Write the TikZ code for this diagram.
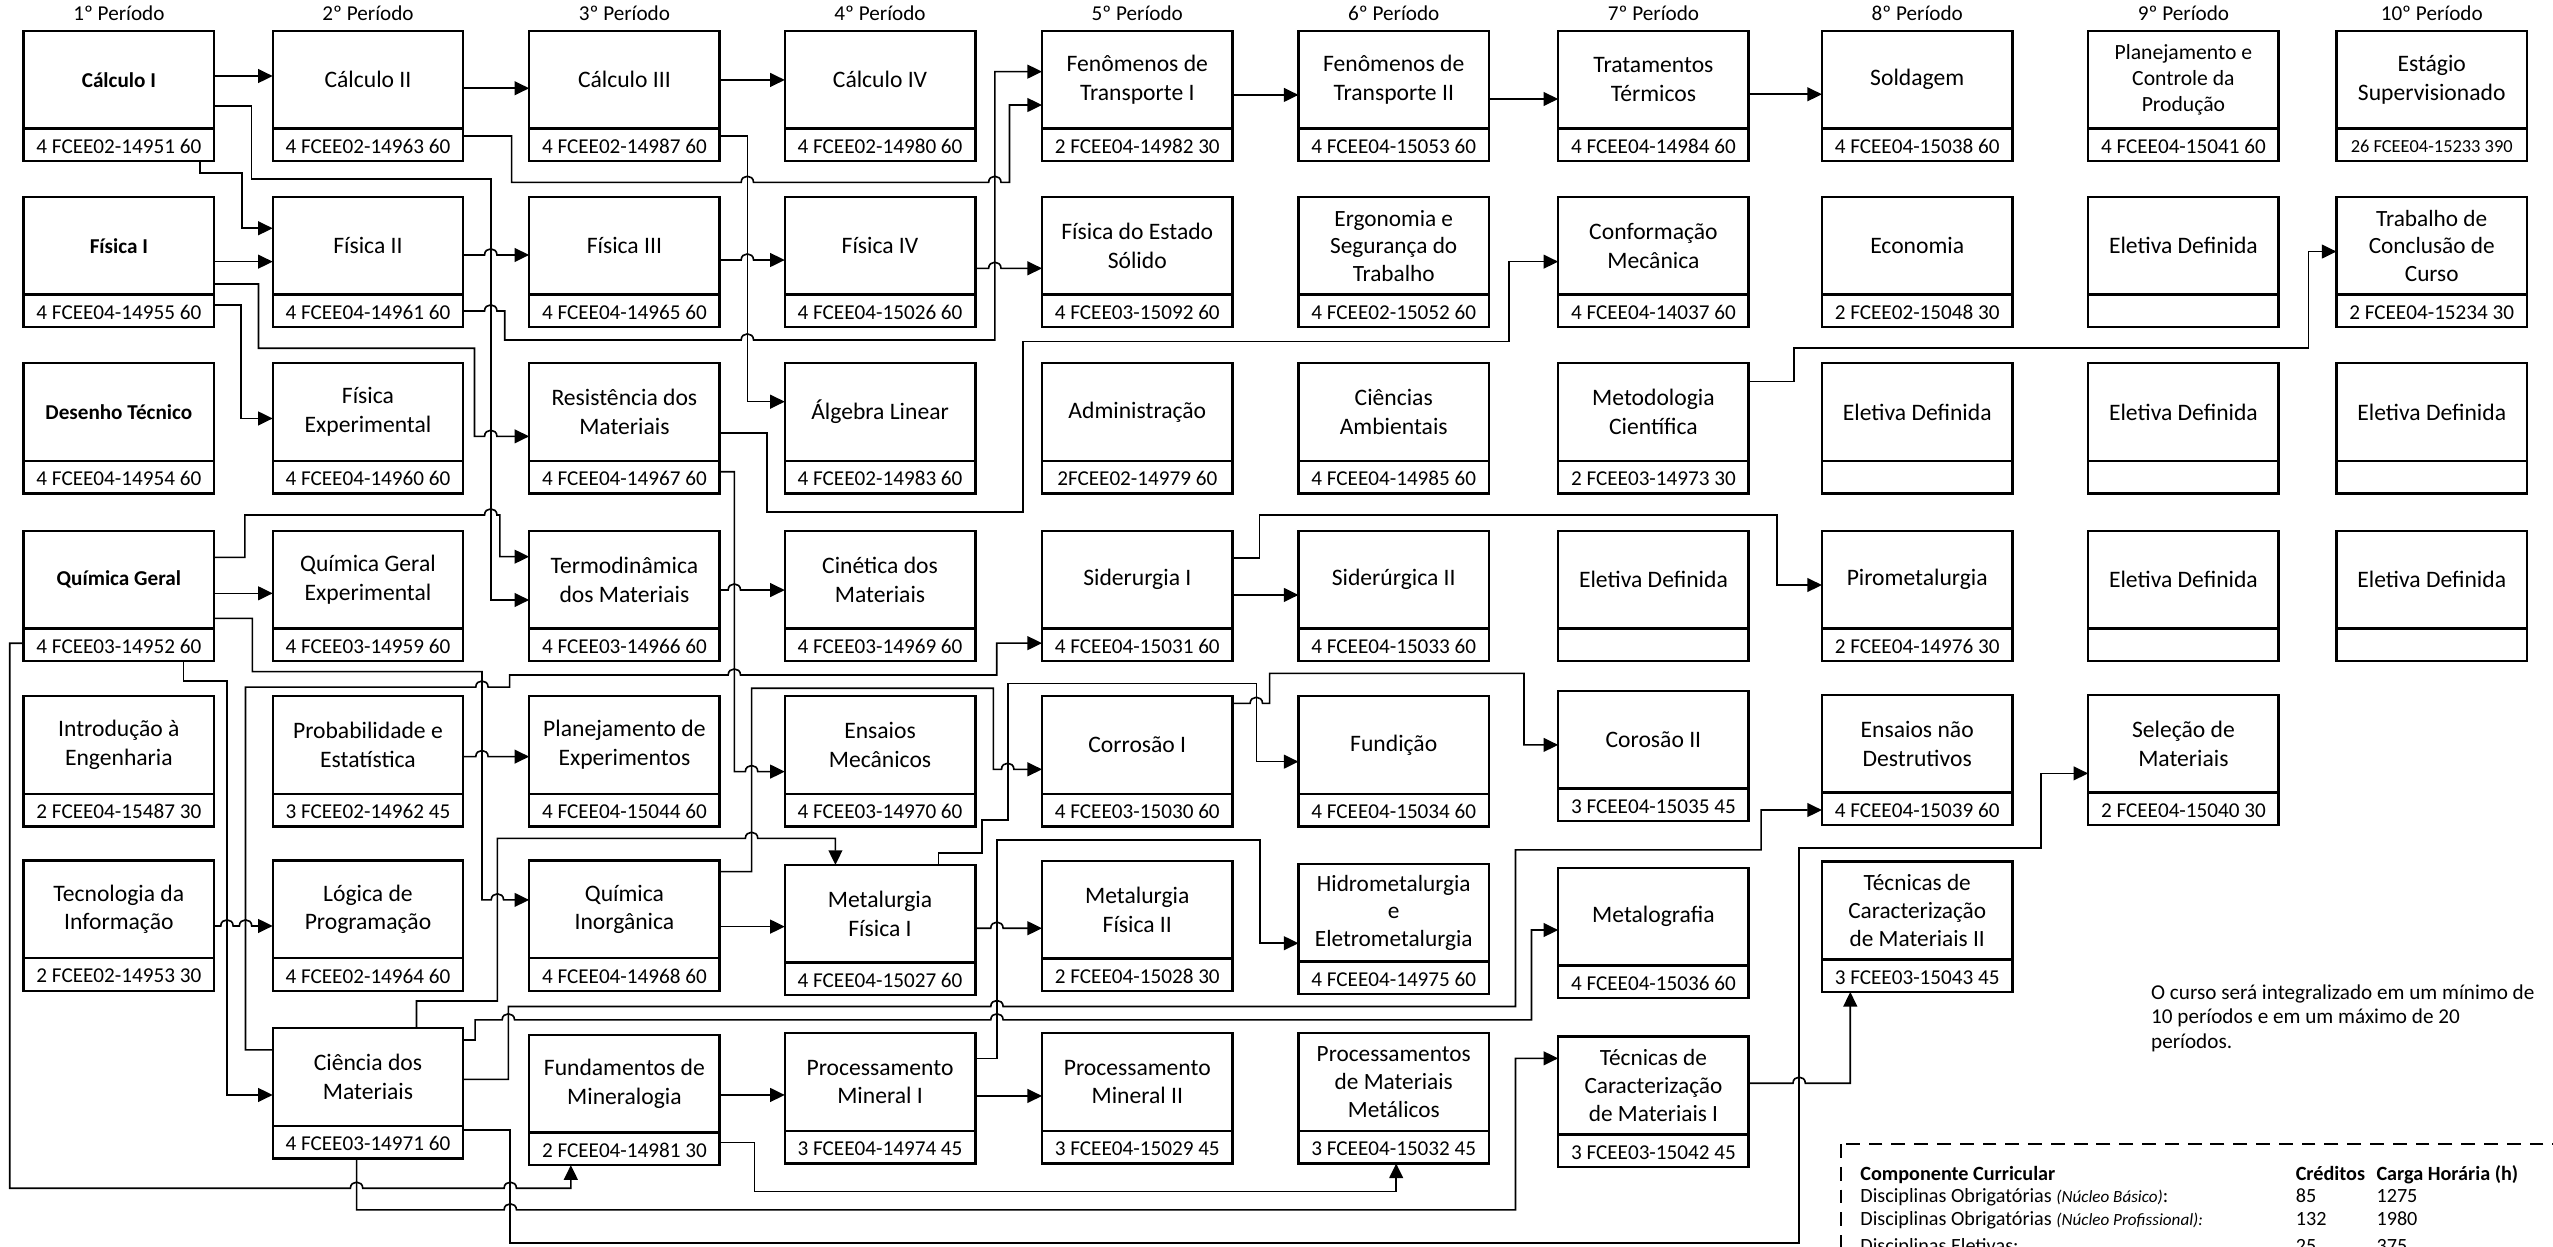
\documentclass[tikz,border=0pt]{standalone}
\usepackage{fontspec}
\setmainfont{Carlito}
\usetikzlibrary{arrows.meta}
\tikzset{
  boxn/.style={draw, line width=1.5pt, minimum width=117pt, minimum height=80pt, inner sep=0pt, outer sep=0pt},
  divl/.style={line width=1.5pt},
  ttl/.style={align=center, inner sep=0pt, font=\fontsize{14.5}{17.6}\selectfont},
  ttls/.style={align=center, inner sep=0pt, font=\fontsize{13.3}{16}\selectfont},
  ttlb/.style={align=center, inner sep=0pt, font=\fontsize{13}{16}\selectfont\bfseries},
  ttl3/.style={align=center, inner sep=0pt, font=\fontsize{14.3}{17}\selectfont},
  cde/.style={inner sep=0pt, font=\fontsize{13}{15}\selectfont},
  hdr/.style={inner sep=0pt, font=\fontsize{13}{15}\selectfont, anchor=base},
  tbl/.style={inner sep=0pt, anchor=base west, font=\fontsize{12.4}{14}\selectfont},
  conn/.style={line width=1pt},
  arr/.style={conn, -{Triangle[length=9pt,width=8.5pt]}},
  jr/.style 2 args={insert path={-- ({#1-3.8},{#2}) .. controls ({#1-3.8},{#2-5}) and ({#1+3.8},{#2-5}) .. ({#1+3.8},{#2})}},
}
\newcommand{\cbox}[6][ttl]{%
  \node[boxn] (#2) at ({#3+58.5},{#4+40}) {};
  \draw[divl] ({#3},{#4+60}) -- ({#3+117},{#4+60});
  \node[#1] (#2-t) at ({#3+58.5},{#4+30}) {#5};
  \node[cde] (#2-c) at ({#3+58.5},{#4+71}) {#6};
}
\begin{document}
\begin{tikzpicture}[x=1pt,y=-1pt]
\useasboundingbox (0,0) rectangle (1568,765.3);
% headers
\node[hdr] (h1) at (73,12.7) {1º Período};
\node[hdr] (h2) at (226,12.7) {2º Período};
\node[hdr] (h3) at (383.5,12.7) {3º Período};
\node[hdr] (h4) at (540.5,12.7) {4º Período};
\node[hdr] (h5) at (698.5,12.7) {5º Período};
\node[hdr] (h6) at (856,12.7) {6º Período};
\node[hdr] (h7) at (1015.5,12.7) {7º Período};
\node[hdr] (h8) at (1177.5,12.7) {8º Período};
\node[hdr] (h9) at (1341,12.7) {9º Período};
\node[hdr] (h10) at (1493.5,12.7) {10º Período};
% row 1
\cbox[ttlb]{cal1}{14.5}{19}{Cálculo I}{4 FCEE02-14951 60}
\cbox{cal2}{167.5}{19}{Cálculo II}{4 FCEE02-14963 60}
\cbox{cal3}{325}{19}{Cálculo III}{4 FCEE02-14987 60}
\cbox{cal4}{482}{19}{Cálculo IV}{4 FCEE02-14980 60}
\cbox{fen1}{640}{19}{Fenômenos de\\Transporte I}{2 FCEE04-14982 30}
\cbox{fen2}{797.5}{19}{Fenômenos de\\Transporte II}{4 FCEE04-15053 60}
\cbox{trat}{957}{19}{Tratamentos\\Térmicos}{4 FCEE04-14984 60}
\cbox{sold}{1119}{19}{Soldagem}{4 FCEE04-15038 60}
\cbox[ttls]{pcp}{1282.5}{19}{Planejamento e\\Controle da\\Produção}{4 FCEE04-15041 60}
\cbox{estag}{1435}{19}{Estágio\\Supervisionado}{\fontsize{11.3}{13}\selectfont 26 FCEE04-15233 390}
% row 2
\cbox[ttlb]{fis1}{14.5}{121}{Física I}{4 FCEE04-14955 60}
\cbox{fis2}{167.5}{121}{Física II}{4 FCEE04-14961 60}
\cbox{fis3}{325}{121}{Física III}{4 FCEE04-14965 60}
\cbox{fis4}{482}{121}{Física IV}{4 FCEE04-15026 60}
\cbox{fes}{640}{121}{Física do Estado\\Sólido}{4 FCEE03-15092 60}
\cbox[ttl3]{ergo}{797.5}{121}{Ergonomia e\\Segurança do\\Trabalho}{4 FCEE02-15052 60}
\cbox{conf}{957}{121}{Conformação\\Mecânica}{4 FCEE04-14037 60}
\cbox{econ}{1119}{121}{Economia}{2 FCEE02-15048 30}
\cbox{elb}{1282.5}{121}{Eletiva Definida}{}
\cbox[ttl3]{tcc}{1435}{121}{Trabalho de\\Conclusão de\\Curso}{2 FCEE04-15234 30}
% row 3
\cbox[ttlb]{des}{14.5}{223}{Desenho Técnico}{4 FCEE04-14954 60}
\cbox{fexp}{167.5}{223}{Física\\Experimental}{4 FCEE04-14960 60}
\cbox{res}{325}{223}{Resistência dos\\Materiais}{4 FCEE04-14967 60}
\cbox{alg}{482}{223}{Álgebra Linear}{4 FCEE02-14983 60}
\cbox{adm}{640}{223}{Administração}{2FCEE02-14979 60}
\cbox{camb}{797.5}{223}{Ciências\\Ambientais}{4 FCEE04-14985 60}
\cbox{met}{957}{223}{Metodologia\\Científica}{2 FCEE03-14973 30}
\cbox{elc}{1119}{223}{Eletiva Definida}{}
\cbox{eld}{1282.5}{223}{Eletiva Definida}{}
\cbox{ele}{1435}{223}{Eletiva Definida}{}
% row 4
\cbox[ttlb]{qg}{14.5}{326}{Química Geral}{4 FCEE03-14952 60}
\cbox{qge}{167.5}{326}{Química Geral\\Experimental}{4 FCEE03-14959 60}
\cbox{termo}{325}{326}{Termodinâmica\\dos Materiais}{4 FCEE03-14966 60}
\cbox{cin}{482}{326}{Cinética dos\\Materiais}{4 FCEE03-14969 60}
\cbox{sid1}{640}{326}{Siderurgia I}{4 FCEE04-15031 60}
\cbox{sid2}{797.5}{326}{Siderúrgica II}{4 FCEE04-15033 60}
\cbox{elf}{957}{326}{Eletiva Definida}{}
\cbox{piro}{1119}{326}{Pirometalurgia}{2 FCEE04-14976 30}
\cbox{elg}{1282.5}{326}{Eletiva Definida}{}
\cbox{elh}{1435}{326}{Eletiva Definida}{}
% row 5
\cbox{intro}{14.5}{427.5}{Introdução à\\Engenharia}{2 FCEE04-15487 30}
\cbox{prob}{167.5}{427.5}{Probabilidade e\\Estatística}{3 FCEE02-14962 45}
\cbox{plan}{325}{427.5}{Planejamento de\\Experimentos}{4 FCEE04-15044 60}
\cbox{ensm}{482}{427.5}{Ensaios\\Mecânicos}{4 FCEE03-14970 60}
\cbox{cor1}{640}{427.5}{Corrosão I}{4 FCEE03-15030 60}
\cbox{fund}{797.5}{427.5}{Fundição}{4 FCEE04-15034 60}
\cbox{cor2}{957}{424.4}{Corosão II}{3 FCEE04-15035 45}
\cbox{ndt}{1119}{426.8}{Ensaios não\\Destrutivos}{4 FCEE04-15039 60}
\cbox{sel}{1282.5}{426.8}{Seleção de\\Materiais}{2 FCEE04-15040 30}
% row 6
\cbox{tec}{14.5}{528.5}{Tecnologia da\\Informação}{2 FCEE02-14953 30}
\cbox{log}{167.5}{528.5}{Lógica de\\Programação}{4 FCEE02-14964 60}
\cbox{qi}{325}{528.5}{Química\\Inorgânica}{4 FCEE04-14968 60}
\cbox{mf1}{482}{531.2}{Metalurgia\\Física I}{4 FCEE04-15027 60}
\cbox{mf2}{640}{528.8}{Metalurgia\\Física II}{2 FCEE04-15028 30}
\cbox[ttl3]{hidro}{797.5}{530.6}{Hidrometalurgia\\e\\Eletrometalurgia}{4 FCEE04-14975 60}
\cbox{metg}{957}{533}{Metalografia}{4 FCEE04-15036 60}
\cbox[ttl3]{tc2}{1119}{529.2}{Técnicas de\\Caracterização\\de Materiais II}{3 FCEE03-15043 45}
% row 7
\cbox{cie}{167.5}{631.5}{Ciência dos\\Materiais}{4 FCEE03-14971 60}
\cbox{fmin}{325}{635.6}{Fundamentos de\\Mineralogia}{2 FCEE04-14981 30}
\cbox{pm1}{482}{634.6}{Processamento\\Mineral I}{3 FCEE04-14974 45}
\cbox{pm2}{640}{634.6}{Processamento\\Mineral II}{3 FCEE04-15029 45}
\cbox[ttl3]{pmm}{797.5}{634.6}{Processamentos\\de Materiais\\Metálicos}{3 FCEE04-15032 45}
\cbox[ttl3]{tc1}{957}{636.7}{Técnicas de\\Caracterização\\de Materiais I}{3 FCEE03-15042 45}
% connectors
\draw[arr] (cal1.east |- 0,46.7) -- (cal2.west |- 0,46.7);
\draw[arr] (cal2.east |- 0,54.2) -- (cal3.west |- 0,54.2);
\draw[arr] (cal3.east |- 0,49.1) -- (cal4.west |- 0,49.1);
\draw[arr] (fen1.east |- 0,58.3) -- (fen2.west |- 0,58.3);
\draw[arr] (fen2.east |- 0,60.8) -- (trat.west |- 0,60.8);
\draw[arr] (trat.east |- 0,57.9) -- (sold.west |- 0,57.9);
\draw[arr] (cal1.south -| 123,0) -- (123,106.4) -- (148.8,106.4) -- (148.8,140.2) -- (fis2.west |- 0,140.2);
\draw[arr] (cal1.east |- 0,65.1) -- (154.5,65.1) -- (154.5,110) -- (301.4,110) -- (301.4,368.5) -- (termo.west |- 0,368.5);
\draw[arr] (fis1.east |- 0,160.7) -- (fis2.west |- 0,160.7);
\draw[arr] (fis1.east |- 0,174.4) -- (158.8,174.4) -- (158.8,213.9) -- (291.4,213.9) -- (291.4,268) [jr={301.4}{268}] -- (res.west |- 0,268);
\draw[arr] (fis1.east |- 0,187.3) -- (148,187.3) -- (148,257) -- (fexp.west |- 0,257);
\draw[arr] (fis2.east |- 0,156.6) [jr={301.4}{156.6}] -- (fis3.west |- 0,156.6);
\draw[arr] (fis2.east |- 0,191) [jr={301.4}{191}] -- (310,191) -- (310,208.8) [jr={459}{208.8}] -- (611,208.8) -- (611,44) -- (fen1.west |- 0,44);
\draw[arr] (cal2.east |- 0,83.5) -- (314.2,83.5) -- (314.2,112) [jr={459}{112}] [jr={611}{112}] -- (620,112) -- (620,64.5) -- (fen1.west |- 0,64.5);
\draw[arr] (cal3.east |- 0,83.5) -- (459,83.5) -- (459,246.7) -- (alg.west |- 0,246.7);
\draw[arr] (fis3.east |- 0,159.7) [jr={459}{159.7}] -- (fis4.west |- 0,159.7);
\draw[arr] (fis4.east |- 0,164.8) [jr={611}{164.8}] -- (fes.west |- 0,164.8);
\draw[arr] (res.east |- 0,266) -- (471,266) -- (471,314.3) -- (628.4,314.3) -- (628.4,209.8) -- (926.8,209.8) -- (926.8,160.7) -- (conf.west |- 0,160.7);
\draw[arr] (res.east |- 0,289.7) -- (451,289.7) -- (451,473.9) [jr={461.6}{473.9}] -- (ensm.west |- 0,473.9);
\draw[arr] (qg.east |- 0,364.4) -- (qge.west |- 0,364.4);
\draw[arr] (qg.east |- 0,342.3) -- (150.4,342.3) -- (150.4,316.3) [jr={301.4}{316.3}] -- (307,316.3) -- (307,341.9) -- (termo.west |- 0,341.9);
\draw[arr] (qg.east |- 0,379.8) -- (155,379.8) -- (155,412.5) -- (296,412.5) -- (296,552.7) [jr={305.5}{552.7}] -- (qi.west |- 0,552.7);
\draw[arr] (qg.south -| 112.8,0) -- (112.8,418.3) -- (139.4,418.3) -- (139.4,672.5) -- (cie.west |- 0,672.5);
\draw[arr] (qg.west |- 0,395.1) -- (6,395.1) -- (6,729.8) [jr={219}{729.8}] [jr={313.4}{729.8}] -- (350.6,729.8) -- (fmin.south -| 350.6,0);
\draw[arr] (termo.east |- 0,362.4) [jr={451}{362.4}] -- (cin.west |- 0,362.4);
\draw[arr] (sid1.east |- 0,365.4) -- (sid2.west |- 0,365.4);
\draw[arr] (sid1.east |- 0,342.9) -- (773.6,342.9) -- (773.6,316.3) -- (1091.5,316.3) -- (1091.5,359.3) -- (piro.west |- 0,359.3);
\draw[arr] (cie.west |- 0,644.8) -- (150.8,644.8) -- (150.8,422) [jr={296}{422}] -- (313,422) -- (313,414.6) [jr={451}{414.6}] -- (612.2,414.6) -- (612.2,395) -- (sid1.west |- 0,395);
\draw[arr] (prob.east |- 0,464.7) [jr={296}{464.7}] -- (plan.west |- 0,464.7);
\draw[arr] (tec.east |- 0,568.7) [jr={139.4}{568.7}] [jr={150.8}{568.7}] -- (log.west |- 0,568.7);
\draw[arr] (qi.east |- 0,569.1) -- (mf1.west |- 0,569.1);
\draw[arr] (qi.east |- 0,535.3) -- (461.6,535.3) -- (461.6,422.7) -- (610.1,422.7) -- (610.1,472.5) [jr={618.9}{472.5}] -- (cor1.west |- 0,472.5);
\draw[arr] (cie.north -| 255.8,0) -- (255.8,614.8) -- (305.5,614.8) -- (305.5,514.9) [jr={461.6}{514.9}] -- (513.1,514.9) -- (mf1.north -| 513.1,0);
\draw[arr] (mf1.north -| 576.3,0) -- (576.3,524) -- (603,524) -- (603,503.6) -- (618.9,503.6) -- (618.9,419.7) -- (771.6,419.7) -- (771.6,467.8) -- (fund.west |- 0,467.8);
\draw[arr] (mf1.east |- 0,570.1) [jr={612.3}{570.1}] -- (mf2.west |- 0,570.1);
\draw[arr] (cor1.east |- 0,432) [jr={771.6}{432}] -- (779.8,432) -- (779.8,413.6) -- (936,413.6) -- (936,457.5) -- (cor2.west |- 0,457.5);
\draw[arr] (pm1.east |- 0,650) -- (612.3,650) -- (612.3,515.9) -- (774,515.9) -- (774,579.3) -- (hidro.west |- 0,579.3);
\draw[arr] (pm1.east |- 0,673.1) -- (pm2.west |- 0,673.1);
\draw[arr] (fmin.east |- 0,672.5) -- (pm1.west |- 0,672.5);
\draw[arr] (fmin.east |- 0,701.8) -- (463.4,701.8) -- (463.4,731.8) -- (857.5,731.8) -- (pmm.south -| 857.5,0);
\draw[arr] (cie.east |- 0,638.7) -- (291.8,638.7) -- (291.8,626.4) [jr={312.2}{626.4}] [jr={612.3}{626.4}] -- (940.6,626.4) -- (940.6,571.2) -- (metg.west |- 0,571.2);
\draw[arr] (cie.east |- 0,662.9) -- (312.2,662.9) -- (312.2,618.2) [jr={612.3}{618.2}] -- (930.8,618.2) -- (930.8,522) -- (1081.6,522) -- (1081.6,497.5) -- (ndt.west |- 0,497.5);
\draw[arr] (cie.south -| 219,0) -- (219,743.1) [jr={313.4}{743.1}] -- (930.8,743.1) -- (930.8,650) -- (tc1.west |- 0,650);
\draw[arr] (cie.east |- 0,694) -- (313.4,694) -- (313.4,763.6) -- (1105,763.6) -- (1105,521) -- (1253.6,521) -- (1253.6,475) -- (sel.west |- 0,475);
\draw[arr] (tc1.east |- 0,665.3) [jr={1105}{665.3}] -- (1136.4,665.3) -- (tc2.south -| 1136.4,0);
\draw[arr] (met.east |- 0,234.4) -- (1101.8,234.4) -- (1101.8,213.9) -- (1417.7,213.9) -- (1417.7,154.5) -- (tcc.west |- 0,154.5);
% note
\node[inner sep=0pt, anchor=base west, align=left, font=\fontsize{13}{15.1}\selectfont] (note) at (1321,643.9) {O curso será integralizado em um mínimo de\\10 períodos e em um máximo de 20\\períodos.};
% table
\draw[line width=1.1pt, dash pattern=on 8.5pt off 5.5pt] (1130.7,702.6) rectangle (1600,820);
\node[tbl, font=\fontsize{12.4}{14}\selectfont\bfseries] (t00) at (1142.4,724.8) {Componente Curricular};
\node[tbl, font=\fontsize{12.4}{14}\selectfont\bfseries] (t01) at (1409.8,724.8) {Créditos};
\node[tbl, font=\fontsize{12.4}{14}\selectfont\bfseries] (t02) at (1459.4,724.8) {Carga Horária (h)};
\node[tbl] (t10) at (1142.4,738.7) {Disciplinas Obrigatórias {\fontsize{10.5}{12}\selectfont\itshape (Núcleo Básico)}:};
\node[tbl] (t11) at (1409.8,738.7) {85};
\node[tbl] (t12) at (1459.4,738.7) {1275};
\node[tbl] (t20) at (1142.4,752.4) {Disciplinas Obrigatórias {\fontsize{10.5}{12}\selectfont\itshape (Núcleo Profissional):}};
\node[tbl] (t21) at (1409.8,752.4) {132};
\node[tbl] (t22) at (1459.4,752.4) {1980};
\node[tbl] (t30) at (1142.4,769) {Disciplinas Eletivas:};
\node[tbl] (t31) at (1409.8,769) {25};
\node[tbl] (t32) at (1459.4,769) {375};
\end{tikzpicture}
\end{document}
